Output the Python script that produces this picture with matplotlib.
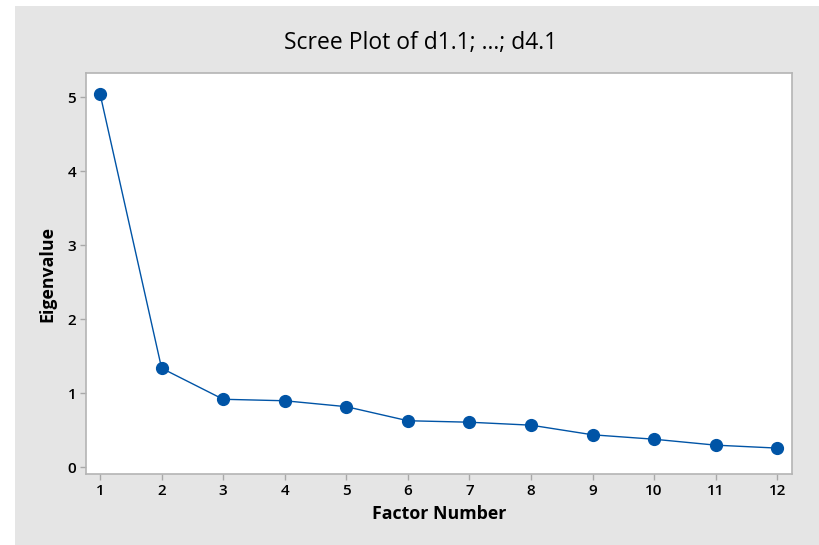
import matplotlib
matplotlib.use("Agg")
import matplotlib.pyplot as plt
from matplotlib.patches import Rectangle

factor_number = [1, 2, 3, 4, 5, 6, 7, 8, 9, 10, 11, 12]
eigenvalue = [5.05, 1.34, 0.92, 0.90, 0.82, 0.63, 0.61, 0.57, 0.44, 0.38, 0.30, 0.26]
y_ticks = [0, 1, 2, 3, 4, 5]
title = "Scree Plot of d1.1; ...; d4.1"

plt.rcParams['font.family'] = ['Open Sans', 'DejaVu Sans']

W, H = 819, 545
fig = plt.figure(figsize=(W / 100, H / 100), dpi=100, facecolor='white')
fig.patches.append(Rectangle((15 / W, 0), 1 - 15 / W, 1 - 6 / H, transform=fig.transFigure,
                             facecolor='#e5e5e5', edgecolor='none', zorder=-10))

ax = fig.add_axes([86 / W, 1 - 474 / H, (792 - 86) / W, (474 - 73) / H])
ax.set_facecolor('white')
blue = '#0054a6'
ax.plot(factor_number, eigenvalue, color=blue, lw=1.0, marker='o', ms=8.5,
        markerfacecolor=blue, markeredgecolor=blue, zorder=3)

ax.set_xlim(0.772, 12.24)
ax.set_ylim(-0.09, 5.33)
ax.set_xticks(factor_number)
ax.set_yticks(y_ticks)
for s in ax.spines.values():
    s.set_color('#b4b4b4')
    s.set_linewidth(1.2)
ax.tick_params(axis='both', direction='out', length=4, width=1, color='#a8a8a8',
               labelsize=11, labelcolor='#000000', pad=3)
for lbl in ax.get_xticklabels() + ax.get_yticklabels():
    lbl.set_fontweight('semibold')

ax.set_xlabel("Factor Number", fontsize=12.8, fontweight='bold', labelpad=5, color='#000000')
ax.set_ylabel("Eigenvalue", fontsize=12.8, fontweight='bold', labelpad=8, color='#000000')
fig.text((283 + 559) / 2 / W, 1 - 43 / H, title, ha='center', va='center', fontsize=16.5,
         color='#000000', fontweight='medium')

fig.savefig("out.png", dpi=100, facecolor=fig.get_facecolor())
